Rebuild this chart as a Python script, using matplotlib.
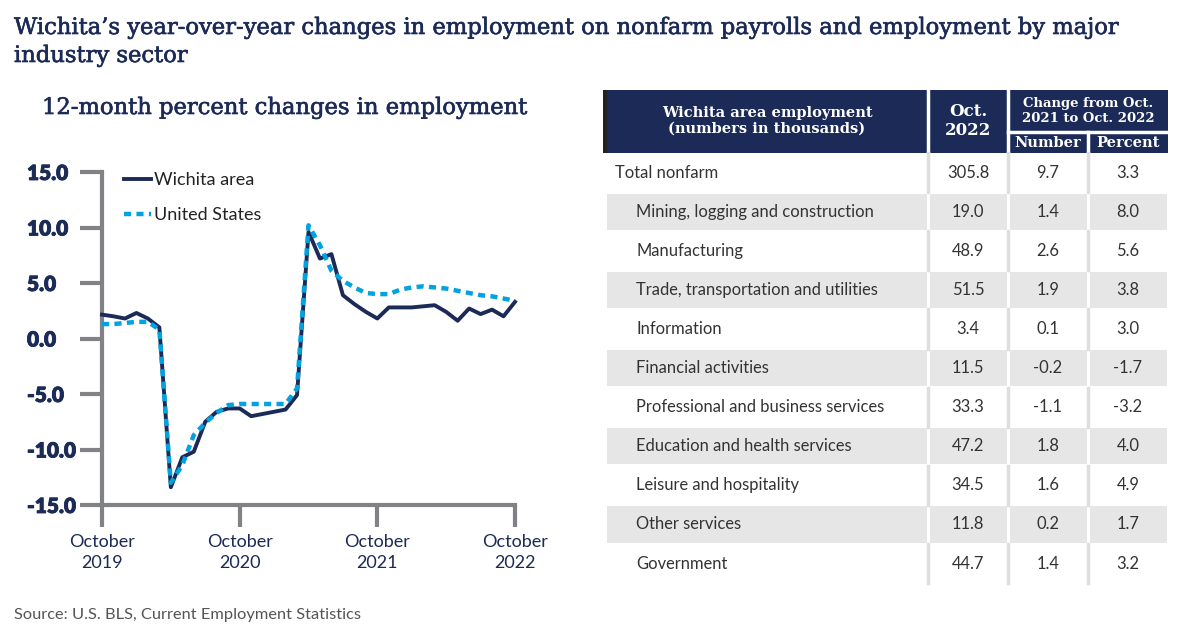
import matplotlib
matplotlib.use('Agg')
from matplotlib import pyplot as plt
from matplotlib.patches import Rectangle
import matplotlib.patheffects as pe
import numpy as np

# --- line chart data: 12-month percent change, Oct 2019 .. Oct 2022 (monthly)
months = np.arange(37)
wichita = [2.15, 2.0, 1.8, 2.3, 1.8, 1.0, -13.4, -10.7, -10.2, -7.5, -6.6, -6.3,
           -6.3, -7.0, -6.8, -6.6, -6.4, -5.1, 9.6, 7.2, 7.6, 3.9, 3.1, 2.4,
           1.8, 2.8, 2.8, 2.8, 2.9, 3.0, 2.4, 1.6, 2.7, 2.2, 2.6, 2.0, 3.3]
united_states = [1.3, 1.3, 1.4, 1.5, 1.5, 0.8, -13.0, -11.4, -8.7, -7.6, -6.7, -6.0,
                 -5.9, -5.9, -5.9, -5.9, -5.9, -4.5, 10.2, 8.4, 6.1, 5.2, 4.6, 4.1,
                 4.0, 4.0, 4.4, 4.6, 4.7, 4.6, 4.5, 4.3, 4.1, 3.9, 3.8, 3.6, 3.4]
x_tick_pos = [0, 12, 24, 36]
x_tick_labels = ['October\n2019', 'October\n2020', 'October\n2021', 'October\n2022']
y_ticks = [15, 10, 5, 0, -5, -10, -15]

# --- table data
sectors = ['Total nonfarm', 'Mining, logging and construction', 'Manufacturing',
           'Trade, transportation and utilities', 'Information', 'Financial activities',
           'Professional and business services', 'Education and health services',
           'Leisure and hospitality', 'Other services', 'Government']
oct_2022 = ['305.8', '19.0', '48.9', '51.5', '3.4', '11.5', '33.3', '47.2', '34.5', '11.8', '44.7']
chg_number = ['9.7', '1.4', '2.6', '1.9', '0.1', '-0.2', '-1.1', '1.8', '1.6', '0.2', '1.4']
chg_percent = ['3.3', '8.0', '5.6', '3.8', '3.0', '-1.7', '-3.2', '4.0', '4.9', '1.7', '3.2']

navy = '#1b2a56'
blue = '#00a3e0'
grey = '#808285'
text_col = '#333333'
sans = 'Lato'
serif = 'DejaVu Serif'

W, H = 1191, 638
fig = plt.figure(figsize=(W / 100, H / 100), dpi=100)

# titles (a thin stroke gives the medium weight of the original slab serif)
heavy = [pe.withStroke(linewidth=0.45, foreground=navy)]
fig.text(14 / W, 1 - 28 / H, "Wichita\u2019s year-over-year changes in employment on nonfarm payrolls and employment by major",
         family=serif, fontsize=16.3, color=navy, va='center', ha='left', path_effects=heavy)
fig.text(14 / W, 1 - 56 / H, 'industry sector', family=serif, fontsize=16.3, color=navy, va='center',
         ha='left', path_effects=heavy)
fig.text(42 / W, 1 - 108 / H, '12-month percent changes in employment', family=serif, fontsize=16.3,
         color=navy, va='center', ha='left', path_effects=heavy)
fig.text(14 / W, 1 - 615 / H, 'Source: U.S. BLS, Current Employment Statistics', family=sans,
         fontsize=11.8, color='#555555', va='center', ha='left')

# line chart
ax = fig.add_axes([102 / W, 1 - 505 / H, (515 - 102) / W, (505 - 172) / H])
ax.plot(months, wichita, color=navy, lw=2.8, label='Wichita area', clip_on=False, zorder=3)
ax.plot(months, united_states, color=blue, lw=3.2, ls=(0, (1.6, 1.2)), label='United States',
        clip_on=False, zorder=4)
ax.set_xlim(0, 36)
ax.set_ylim(-15, 15)
for s in ['top', 'right']:
    ax.spines[s].set_visible(False)
for s in ['left', 'bottom']:
    ax.spines[s].set_color(grey)
    ax.spines[s].set_linewidth(3)
ax.set_xticks(x_tick_pos)
ax.set_xticklabels(x_tick_labels, family=sans, fontsize=13, color=navy, linespacing=1.35)
ax.set_yticks(y_ticks)
ylabs = ax.set_yticklabels(['%.1f' % v for v in y_ticks], family=sans, fontsize=15, fontweight='heavy',
                           color=navy, ha='left')
for t in ylabs:
    t.set_path_effects([pe.withStroke(linewidth=0.6, foreground=navy)])
ax.tick_params(axis='both', length=16, width=3, color=grey, direction='out')
ax.tick_params(axis='y', pad=38)
ax.tick_params(axis='x', pad=5)
ax.set_facecolor('none')
leg = ax.legend(loc='upper left', bbox_to_anchor=(124 / W, 1 - 172 / H), bbox_transform=fig.transFigure,
                frameon=False, handlelength=1.5, handletextpad=0.15, labelspacing=1.05,
                borderpad=0, borderaxespad=0, prop={'family': sans, 'size': 13})
for t in leg.get_texts():
    t.set_color('#222222')

# table drawn in pixel coordinates
tx = fig.add_axes([0, 0, 1, 1])
tx.set_xlim(0, W)
tx.set_ylim(H, 0)
tx.axis('off')
tx.set_zorder(-1)

col_edges = [605, 928, 1008, 1088, 1168]
head_top, head_bot, head_mid = 90, 153, 132
row_h = 39.1

tx.add_patch(Rectangle((605, head_top), 1168 - 605, head_bot - head_top, color=navy, lw=0))
tx.add_patch(Rectangle((603, head_top), 4, head_bot - head_top, color='#222222', lw=0))
for xe in [928, 1008]:
    tx.plot([xe, xe], [head_top, head_bot], color='white', lw=2.5)
tx.plot([1008, 1168], [head_mid, head_mid], color='white', lw=2.5)
tx.plot([1088, 1088], [head_mid, head_bot], color='white', lw=2.5)

hkw = dict(family=serif, fontweight='bold', color='white', ha='center', va='center')
tx.text(767, 121, 'Wichita area employment\n(numbers in thousands)', fontsize=10.5, linespacing=1.1, **hkw)
tx.text(968, 121, 'Oct.\n2022', fontsize=12, linespacing=1.1, **hkw)
tx.text(1088, 111, 'Change from Oct.\n2021 to Oct. 2022', fontsize=9.5, linespacing=1.1, **hkw)
tx.text(1048, 143, 'Number', fontsize=10.5, **hkw)
tx.text(1128, 143, 'Percent', fontsize=10.5, **hkw)

for i, name in enumerate(sectors):
    y0 = head_bot + i * row_h
    yc = y0 + row_h / 2
    if i % 2 == 1:
        for c in range(4):
            tx.add_patch(Rectangle((col_edges[c] + 1.5, y0 + 1.5), col_edges[c + 1] - col_edges[c] - 3,
                                   row_h - 3, color='#e6e6e6', lw=0))
    else:
        for xe in col_edges[1:4]:
            tx.plot([xe, xe], [y0, y0 + row_h], color='#dedede', lw=2.5)
    indent = 615 if i == 0 else 636
    tx.text(indent, yc, name, family=sans, fontsize=11.9, color=text_col, ha='left', va='center')
    for c, vals in enumerate([oct_2022, chg_number, chg_percent]):
        xc = (col_edges[c + 1] + col_edges[c + 2]) / 2
        tx.text(xc, yc, vals[i], family=sans, fontsize=11.9, color=text_col, ha='center', va='center')

fig.savefig('out.png', dpi=100)
